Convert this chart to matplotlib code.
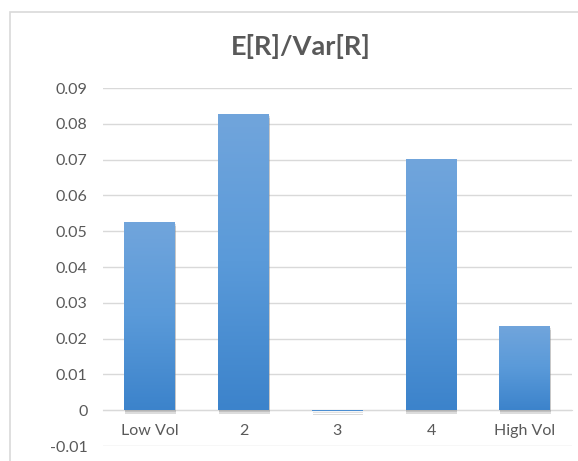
import matplotlib.pyplot as plt
import matplotlib.patches as patches
import matplotlib.patheffects as pe
from matplotlib.colors import LinearSegmentedColormap
import numpy as np

plt.rcParams['font.family'] = ['Lato', 'DejaVu Sans']

# ratio of expected return to variance per volatility bucket
categories = ['Low Vol', '2', '3', '4', 'High Vol']
values = [0.0525, 0.0827, -0.0003, 0.0701, 0.0235]

y_ticks = [-0.01, 0, 0.01, 0.02, 0.03, 0.04, 0.05, 0.06, 0.07, 0.08, 0.09]
y_labels = ['-0.01', '0', '0.01', '0.02', '0.03', '0.04', '0.05', '0.06', '0.07', '0.08', '0.09']

text_grey = '#595959'
grid_grey = '#d9d9d9'

fig = plt.figure(figsize=(5.78, 4.61), dpi=100)

# light chart border
fig.add_artist(patches.Rectangle((10 / 578, -0.1), 1.2, 1.1 - 12 / 461,
                                 transform=fig.transFigure, fill=False,
                                 edgecolor=grid_grey, linewidth=1.2))

ax = fig.add_axes([0.178, 0.0325, 0.811, 0.7766])
x = np.arange(len(categories))
shadow = [pe.SimplePatchShadow(offset=(0.5, -2.5), shadow_rgbFace='#8c8c8c', alpha=0.3),
          pe.SimplePatchShadow(offset=(0.5, -1.5), shadow_rgbFace='#8c8c8c', alpha=0.25),
          pe.Normal()]
bars = ax.bar(x, values, width=0.54, color='#5b9bd5', linewidth=0, zorder=3,
              path_effects=shadow)

# vertical gradient on each bar, lighter at the top
grad = np.linspace(0, 1, 256).reshape(-1, 1)
cmap = LinearSegmentedColormap.from_list('bar', ['#3c83cb', '#5a9ad9', '#71a5dc'])
for b in bars:
    x0, w = b.get_x(), b.get_width()
    y0, h = b.get_y(), b.get_height()
    lo, hi = min(y0, y0 + h), max(y0, y0 + h)
    im = ax.imshow(grad, extent=(x0, x0 + w, lo, hi), origin='lower', cmap=cmap,
                   aspect='auto', zorder=4)
    im.set_clip_path(b)

ax.set_xlim(-0.5, len(categories) - 0.5)
ax.set_ylim(-0.01, 0.09)
ax.set_yticks(y_ticks)
ax.set_yticklabels(y_labels)
ax.set_xticks(x)
ax.set_xticklabels(categories)

ax.yaxis.grid(True, color=grid_grey, linewidth=1.0, zorder=0)
ax.set_axisbelow(True)
for s in ['top', 'right', 'left']:
    ax.spines[s].set_visible(False)
ax.spines['bottom'].set_position(('data', 0))
ax.spines['bottom'].set_color(grid_grey)
ax.spines['bottom'].set_zorder(2)

ax.tick_params(axis='y', length=0, pad=11, labelsize=11.5, labelcolor=text_grey)
ax.tick_params(axis='x', length=0, pad=10, labelsize=11.5, labelcolor=text_grey)

fig.text(0.521, 0.900, 'E[R]/Var[R]', ha='center', va='center',
         fontsize=19.5, fontweight='bold', color=text_grey)

fig.savefig('out.png', dpi=100)
